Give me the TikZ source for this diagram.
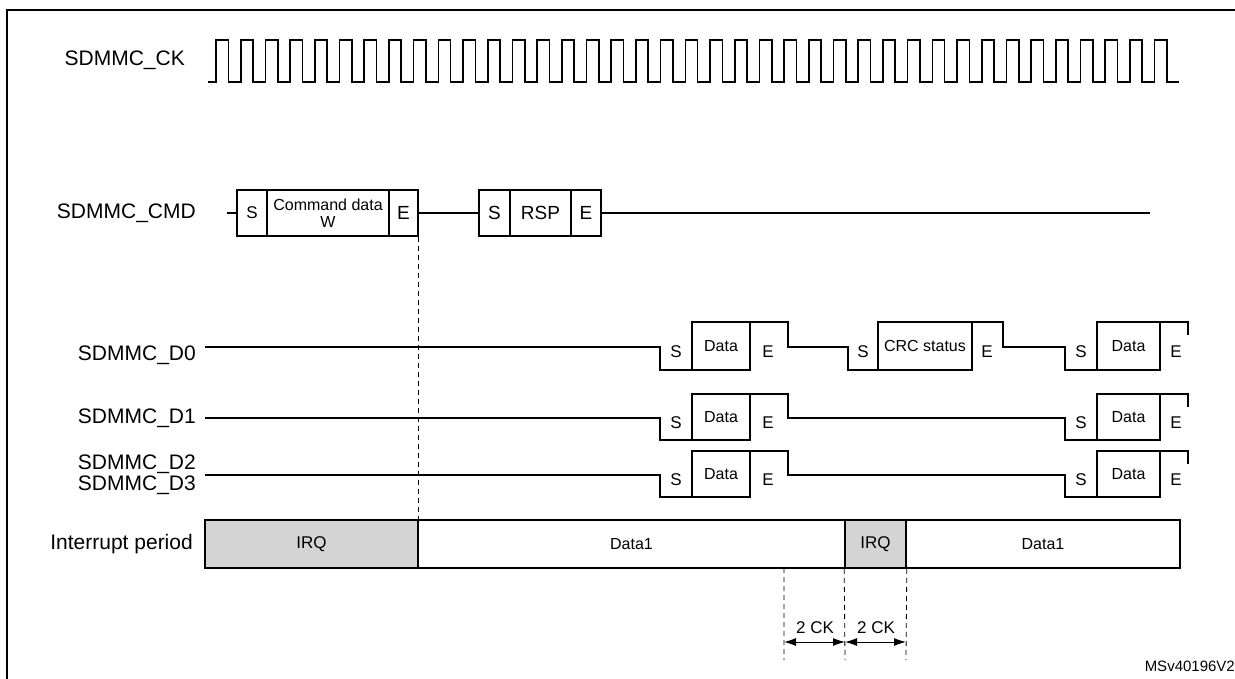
\documentclass[tikz,border=0pt]{standalone}
\usepackage{fontspec}
\setmainfont{Liberation Sans}
\usetikzlibrary{arrows.meta}
\begin{document}
\begin{tikzpicture}[x=1pt,y=-1pt,
  sig/.style={line width=1.6pt},
  lbl/.style={font=\fontsize{21}{23}\selectfont,anchor=east,inner sep=0},
  small/.style={font=\fontsize{17}{18}\selectfont,inner sep=0},
  cell/.style={draw,line width=1.6pt,minimum height=46pt,inner sep=0,font=\fontsize{17}{18}\selectfont,align=center},
  box/.style={draw,line width=1.6pt,inner sep=0,font=\fontsize{16}{17}\selectfont},
  dsh/.style={dash pattern=on 5pt off 4pt,line width=0.8pt},
  dim/.style={{Latex[length=12pt,width=8pt]}-{Latex[length=12pt,width=8pt]},line width=1pt}]
\useasboundingbox (0,0) rectangle (1235,679);
\draw[line width=1.6pt] (7,700) -- (7,10) -- (1250,10);
% labels
\node[lbl] (lck) at (185,60) {SDMMC\_CK};
\node[lbl] (lcmd) at (196,213) {SDMMC\_CMD};
\node[lbl] (ld0) at (196,355) {SDMMC\_D0};
\node[lbl] (ld1) at (196,418) {SDMMC\_D1};
\node[lbl,align=right,font=\fontsize{21}{21}\selectfont] (ld2) at (196,475) {SDMMC\_D2\\SDMMC\_D3};
\node[lbl] (lint) at (193,544) {Interrupt period};
% clock
\draw[sig] (208,82) -- (216,82)
  \foreach \i in {0,...,38} { -- ++(0,-42) -- ++(12.35,0) -- ++(0,42) -- ++(12.35,0) };
% CMD
\node[cell,minimum width=30pt] (cs1) at (252,213) {S};
\node[cell,minimum width=122pt,font=\fontsize{16}{17}\selectfont] (cd) at (328,213) {Command data\\W};
\node[cell,minimum width=29pt,font=\fontsize{19}{20}\selectfont] (ce1) at (403.5,213) {E};
\node[cell,minimum width=31pt,font=\fontsize{19}{20}\selectfont] (cs2) at (494.5,213) {S};
\node[cell,minimum width=61pt,font=\fontsize{19}{20}\selectfont] (cr) at (540.5,213) {RSP};
\node[cell,minimum width=30pt,font=\fontsize{19}{20}\selectfont] (ce2) at (586,213) {E};
\coordinate (c0) at (227,213);
\coordinate (c9) at (1150,213);
\draw[sig] (c0) -- (cs1.west) (ce1.east) -- (cs2.west) (ce2.east) -- (c9);
% D rows
\begin{scope}[sig]
\draw (205,347) -- (660,347) -- (660,370) -- (750,370) (692,322) -- (788,322) -- (788,347) -- (848,347) -- (848,370) -- (972,370)
  (878,322) -- (1003,322) -- (1003,347) -- (1065,347) -- (1065,370) -- (1160,370) (1097,322) -- (1188,322) -- (1188,335);
\draw (205,418) -- (660,418) -- (660,440) -- (750,440) (692,394) -- (788,394) -- (788,418) -- (1065,418) -- (1065,440) -- (1160,440) (1097,394) -- (1188,394) -- (1188,407);
\draw (205,475) -- (660,475) -- (660,497) -- (750,497) (692,451) -- (788,451) -- (788,475) -- (1065,475) -- (1065,497) -- (1160,497) (1097,451) -- (1188,451) -- (1188,464);
\end{scope}
\foreach \n/\y/\t/\b in {a/346/322/370,b/417/394/440,c/474/451/497}{
  \node[box,minimum width=58pt,minimum height={\b-\t}] (d\n1) at (721,\y) {Data};
  \node[box,minimum width=63pt,minimum height={\b-\t}] (d\n2) at (1128.5,\y) {Data};
  \node[small] (s\n1) at (676,\y+6) {S};
  \node[small] (e\n1) at (768,\y+6) {E};
  \node[small] (s\n2) at (1081,\y+6) {S};
  \node[small] (e\n2) at (1176,\y+6) {E};
}
\node[box,minimum width=94pt,minimum height=48pt] (crc) at (925,346) {CRC status};
\node[small] (scrc) at (863,352) {S};
\node[small] (ecrc) at (987,352) {E};
% interrupt row
\node[box,fill=black!17,minimum width=213pt,minimum height=48pt,font=\fontsize{17}{18}\selectfont] (irq1) at (311.5,544) {IRQ};
\node[box,minimum width=427pt,minimum height=48pt] (dat1) at (631.5,544) {Data1};
\node[box,fill=black!17,minimum width=61pt,minimum height=48pt,font=\fontsize{17}{18}\selectfont] (irq2) at (875.5,544) {IRQ};
\node[box,minimum width=274pt,minimum height=48pt] (dat2) at (1043,544) {Data1};
% dashed
\draw[dsh] (ce1.south east) -- (irq1.north east);
\coordinate (k1t) at (784,568); \coordinate (k1b) at (784,660);
\coordinate (k2b) at (845,660); \coordinate (k3b) at (906,660);
\draw[dsh] (k1t) -- (k1b) (irq2.south west) -- (k2b) (irq2.south east) -- (k3b);
\coordinate (a1) at (784,642); \coordinate (a2) at (845,642); \coordinate (a3) at (906,642);
\draw[dim] (a1) -- (a2);
\draw[dim] (a2) -- (a3);
\node[small] (ck1) at (815,628) {2 CK};
\node[small] (ck2) at (876,628) {2 CK};
\node[small,anchor=east,font=\fontsize{15}{16}\selectfont] (ms) at (1235,666) {MSv40196V2};
\end{tikzpicture}
\end{document}
